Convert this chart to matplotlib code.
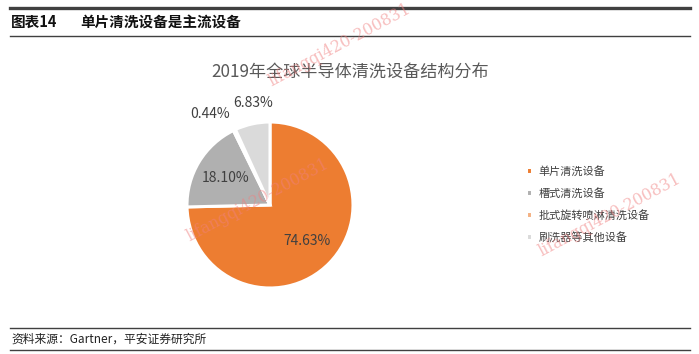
import numpy as np
import matplotlib.pyplot as plt
from matplotlib.lines import Line2D

plt.rcParams['font.family'] = ['Noto Sans CJK SC', 'DejaVu Sans']

categories = ["单片清洗设备", "槽式清洗设备", "批式旋转喷淋清洗设备", "刷洗器等其他设备"]
shares = [74.63, 18.10, 0.44, 6.83]
colors = ["#ED7D31", "#B0B0B0", "#F4B183", "#DADADA"]
header_num = "图表14"
header = "单片清洗设备是主流设备"
chart_title = "2019年全球半导体清洗设备结构分布"
source = "资料来源：Gartner，平安证券研究所"
watermark = "lifangqi420-200831"

fig = plt.figure(figsize=(6.99, 3.54), dpi=100)
W, H = 699, 354

def fx(px): return px / W
def fy(py): return 1 - py / H

# frame lines
for y, lw in [(8, 2.4), (36, 1.0), (328, 1.0), (350, 1.0)]:
    fig.add_artist(Line2D([fx(10), fx(690)], [fy(y), fy(y)], color="#404040", lw=lw))

fig.text(fx(11), fy(22), header_num, fontsize=10.5, fontweight="bold", va="center", color="#111111")
fig.text(fx(80), fy(22), header, fontsize=10.5, fontweight="bold", va="center", color="#111111")
fig.text(fx(11), fy(339), source, fontsize=8.5, style="italic", va="center", color="#222222")
fig.text(fx(350), fy(72), chart_title, fontsize=12.3, ha="center", va="center", color="#595959")

# pie
cx, cy, r = 270, 205, 83
ax = fig.add_axes([fx(cx - r), fy(cy + r), 2 * r / W, 2 * r / H])
wedges, _, autotexts = ax.pie(shares, colors=colors, startangle=90, counterclock=False,
                              autopct=lambda p: f"{p:.2f}%", pctdistance=0.62,
                              wedgeprops=dict(edgecolor="white", linewidth=2.2),
                              textprops=dict(fontsize=10, color="#404040"))
ax.set_xlim(-1, 1)
ax.set_ylim(-1, 1)
ax.set_aspect("auto")
for t in autotexts:
    t.set_clip_on(False)

# outside labels for the two small slices
for i, (dist, dtheta) in {2: (1.32, 8), 3: (1.24, -3)}.items():
    w = wedges[i]
    th = np.deg2rad((w.theta1 + w.theta2) / 2 + dtheta)
    autotexts[i].set_position((dist * np.cos(th), dist * np.sin(th)))

ax.legend(wedges, categories, loc="center left", bbox_to_anchor=(fx(516), fy(204)),
          bbox_transform=fig.transFigure, frameon=False, fontsize=8,
          handlelength=0.5, handleheight=0.5, handletextpad=0.6, labelspacing=1.0,
          labelcolor="#404040")

# watermarks
for x, y in [(340, 45), (258, 200), (610, 215)]:
    fig.text(fx(x), fy(y), watermark, fontsize=11.5, family="DejaVu Serif", color="#f08080",
             alpha=0.5, rotation=28, ha="center", va="center")

fig.savefig("out.png", dpi=100)
